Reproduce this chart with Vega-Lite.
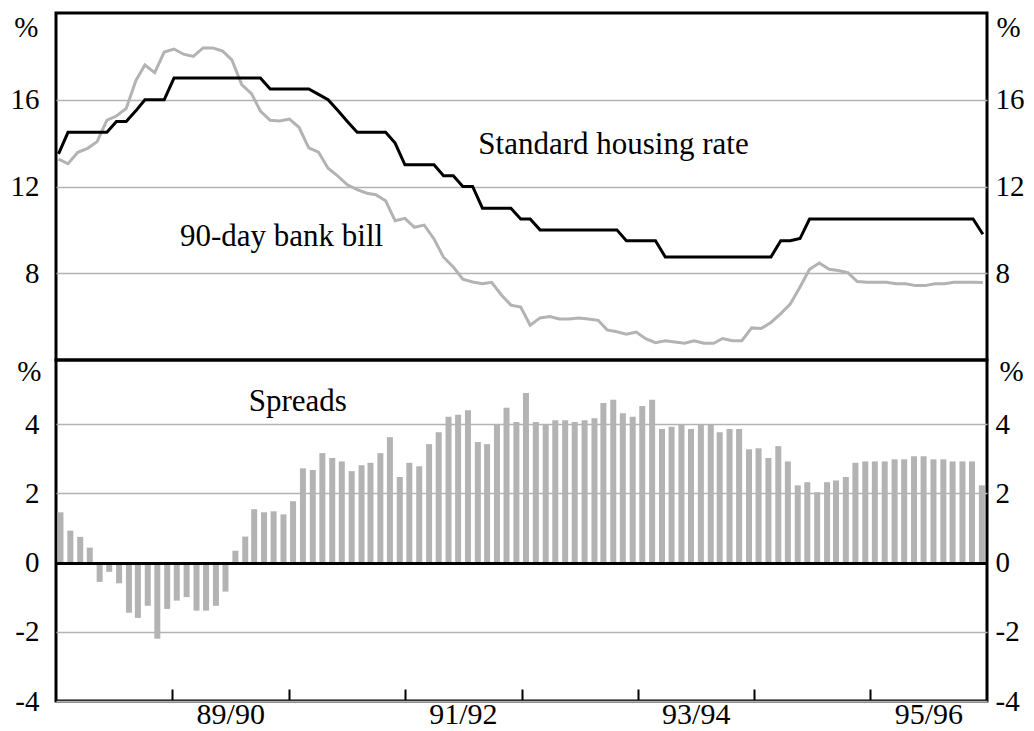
{
  "$schema": "https://vega.github.io/schema/vega-lite/v6.json",
  "padding": {"left": 0, "top": 11, "right": 5, "bottom": 2},
  "background": "white",
  "spacing": 0,
  "bounds": "flush",
  "config": {
    "font": "Liberation Serif",
    "view": {"stroke": "black", "strokeWidth": 3},
    "axis": {
      "domain": false, "ticks": false, "grid": false,
      "labelColor": "black", "titleColor": "black",
      "labelFont": "Liberation Serif", "titleFont": "Liberation Serif",
      "titleFontWeight": "normal", "labelFlush": false, "labelOverlap": false, "labelBound": false
    }
  },
  "datasets": {
    "rates": [
      {"date": "1988-06-15", "housing": 13.5, "bill": 13.26},
      {"date": "1988-07-15", "housing": 14.5, "bill": 13.05, "spread": 1.45},
      {"date": "1988-08-15", "housing": 14.5, "bill": 13.58, "spread": 0.92},
      {"date": "1988-09-15", "housing": 14.5, "bill": 13.76, "spread": 0.74},
      {"date": "1988-10-15", "housing": 14.5, "bill": 14.07, "spread": 0.43},
      {"date": "1988-11-15", "housing": 14.5, "bill": 15.06, "spread": -0.56},
      {"date": "1988-12-15", "housing": 15.0, "bill": 15.25, "spread": -0.27},
      {"date": "1989-01-15", "housing": 15.0, "bill": 15.6, "spread": -0.6},
      {"date": "1989-02-15", "housing": 15.5, "bill": 16.9, "spread": -1.45},
      {"date": "1989-03-15", "housing": 16.0, "bill": 17.6, "spread": -1.6},
      {"date": "1989-04-15", "housing": 16.0, "bill": 17.25, "spread": -1.25},
      {"date": "1989-05-15", "housing": 16.0, "bill": 18.2, "spread": -2.2},
      {"date": "1989-06-15", "housing": 17.0, "bill": 18.34, "spread": -1.34},
      {"date": "1989-07-15", "housing": 17.0, "bill": 18.1, "spread": -1.1},
      {"date": "1989-08-15", "housing": 17.0, "bill": 18.0, "spread": -1.0},
      {"date": "1989-09-15", "housing": 17.0, "bill": 18.39, "spread": -1.39},
      {"date": "1989-10-15", "housing": 17.0, "bill": 18.39, "spread": -1.39},
      {"date": "1989-11-15", "housing": 17.0, "bill": 18.25, "spread": -1.25},
      {"date": "1989-12-15", "housing": 17.0, "bill": 17.84, "spread": -0.84},
      {"date": "1990-01-15", "housing": 17.0, "bill": 16.7, "spread": 0.34},
      {"date": "1990-02-15", "housing": 17.0, "bill": 16.28, "spread": 0.75},
      {"date": "1990-03-15", "housing": 17.0, "bill": 15.48, "spread": 1.54},
      {"date": "1990-04-15", "housing": 16.5, "bill": 15.05, "spread": 1.45},
      {"date": "1990-05-15", "housing": 16.5, "bill": 15.02, "spread": 1.48},
      {"date": "1990-06-15", "housing": 16.5, "bill": 15.11, "spread": 1.39},
      {"date": "1990-07-15", "housing": 16.5, "bill": 14.73, "spread": 1.77},
      {"date": "1990-08-15", "housing": 16.5, "bill": 13.78, "spread": 2.72},
      {"date": "1990-09-15", "housing": 16.25, "bill": 13.58, "spread": 2.67},
      {"date": "1990-10-15", "housing": 16.0, "bill": 12.84, "spread": 3.16},
      {"date": "1990-11-15", "housing": 15.5, "bill": 12.48, "spread": 3.02},
      {"date": "1990-12-15", "housing": 15.0, "bill": 12.08, "spread": 2.92},
      {"date": "1991-01-15", "housing": 14.5, "bill": 11.86, "spread": 2.64},
      {"date": "1991-02-15", "housing": 14.5, "bill": 11.69, "spread": 2.81},
      {"date": "1991-03-15", "housing": 14.5, "bill": 11.62, "spread": 2.88},
      {"date": "1991-04-15", "housing": 14.5, "bill": 11.34, "spread": 3.16},
      {"date": "1991-05-15", "housing": 14.0, "bill": 10.42, "spread": 3.62},
      {"date": "1991-06-15", "housing": 13.0, "bill": 10.53, "spread": 2.47},
      {"date": "1991-07-15", "housing": 13.0, "bill": 10.12, "spread": 2.88},
      {"date": "1991-08-15", "housing": 13.0, "bill": 10.22, "spread": 2.78},
      {"date": "1991-09-15", "housing": 13.0, "bill": 9.58, "spread": 3.42},
      {"date": "1991-10-15", "housing": 12.5, "bill": 8.74, "spread": 3.76},
      {"date": "1991-11-15", "housing": 12.5, "bill": 8.29, "spread": 4.21},
      {"date": "1991-12-15", "housing": 12.0, "bill": 7.73, "spread": 4.27},
      {"date": "1992-01-15", "housing": 12.0, "bill": 7.6, "spread": 4.4},
      {"date": "1992-02-15", "housing": 11.0, "bill": 7.52, "spread": 3.48},
      {"date": "1992-03-15", "housing": 11.0, "bill": 7.58, "spread": 3.42},
      {"date": "1992-04-15", "housing": 11.0, "bill": 7.0, "spread": 4.0},
      {"date": "1992-05-15", "housing": 11.0, "bill": 6.53, "spread": 4.47},
      {"date": "1992-06-15", "housing": 10.5, "bill": 6.44, "spread": 4.06},
      {"date": "1992-07-15", "housing": 10.5, "bill": 5.6, "spread": 4.9},
      {"date": "1992-08-15", "housing": 10.0, "bill": 5.94, "spread": 4.06},
      {"date": "1992-09-15", "housing": 10.0, "bill": 6.0, "spread": 4.0},
      {"date": "1992-10-15", "housing": 10.0, "bill": 5.89, "spread": 4.11},
      {"date": "1992-11-15", "housing": 10.0, "bill": 5.89, "spread": 4.11},
      {"date": "1992-12-15", "housing": 10.0, "bill": 5.94, "spread": 4.06},
      {"date": "1993-01-15", "housing": 10.0, "bill": 5.89, "spread": 4.11},
      {"date": "1993-02-15", "housing": 10.0, "bill": 5.83, "spread": 4.17},
      {"date": "1993-03-15", "housing": 10.0, "bill": 5.39, "spread": 4.61},
      {"date": "1993-04-15", "housing": 10.0, "bill": 5.3, "spread": 4.7},
      {"date": "1993-05-15", "housing": 9.5, "bill": 5.19, "spread": 4.31},
      {"date": "1993-06-15", "housing": 9.5, "bill": 5.29, "spread": 4.21},
      {"date": "1993-07-15", "housing": 9.5, "bill": 4.98, "spread": 4.52},
      {"date": "1993-08-15", "housing": 9.5, "bill": 4.8, "spread": 4.7},
      {"date": "1993-09-15", "housing": 8.75, "bill": 4.89, "spread": 3.86},
      {"date": "1993-10-15", "housing": 8.75, "bill": 4.83, "spread": 3.92},
      {"date": "1993-11-15", "housing": 8.75, "bill": 4.77, "spread": 3.98},
      {"date": "1993-12-15", "housing": 8.75, "bill": 4.89, "spread": 3.86},
      {"date": "1994-01-15", "housing": 8.75, "bill": 4.77, "spread": 3.98},
      {"date": "1994-02-15", "housing": 8.75, "bill": 4.77, "spread": 3.98},
      {"date": "1994-03-15", "housing": 8.75, "bill": 4.99, "spread": 3.76},
      {"date": "1994-04-15", "housing": 8.75, "bill": 4.89, "spread": 3.86},
      {"date": "1994-05-15", "housing": 8.75, "bill": 4.89, "spread": 3.86},
      {"date": "1994-06-15", "housing": 8.75, "bill": 5.48, "spread": 3.27},
      {"date": "1994-07-15", "housing": 8.75, "bill": 5.45, "spread": 3.3},
      {"date": "1994-08-15", "housing": 8.75, "bill": 5.73, "spread": 3.02},
      {"date": "1994-09-15", "housing": 9.5, "bill": 6.14, "spread": 3.36},
      {"date": "1994-10-15", "housing": 9.5, "bill": 6.58, "spread": 2.92},
      {"date": "1994-11-15", "housing": 9.6, "bill": 7.37, "spread": 2.23},
      {"date": "1994-12-15", "housing": 10.5, "bill": 8.18, "spread": 2.32},
      {"date": "1995-01-15", "housing": 10.5, "bill": 8.47, "spread": 2.03},
      {"date": "1995-02-15", "housing": 10.5, "bill": 8.18, "spread": 2.32},
      {"date": "1995-03-15", "housing": 10.5, "bill": 8.13, "spread": 2.37},
      {"date": "1995-04-15", "housing": 10.5, "bill": 8.03, "spread": 2.47},
      {"date": "1995-05-15", "housing": 10.5, "bill": 7.62, "spread": 2.88},
      {"date": "1995-06-15", "housing": 10.5, "bill": 7.58, "spread": 2.92},
      {"date": "1995-07-15", "housing": 10.5, "bill": 7.58, "spread": 2.92},
      {"date": "1995-08-15", "housing": 10.5, "bill": 7.58, "spread": 2.92},
      {"date": "1995-09-15", "housing": 10.5, "bill": 7.52, "spread": 2.98},
      {"date": "1995-10-15", "housing": 10.5, "bill": 7.52, "spread": 2.98},
      {"date": "1995-11-15", "housing": 10.5, "bill": 7.43, "spread": 3.07},
      {"date": "1995-12-15", "housing": 10.5, "bill": 7.43, "spread": 3.07},
      {"date": "1996-01-15", "housing": 10.5, "bill": 7.52, "spread": 2.98},
      {"date": "1996-02-15", "housing": 10.5, "bill": 7.52, "spread": 2.98},
      {"date": "1996-03-15", "housing": 10.5, "bill": 7.58, "spread": 2.92},
      {"date": "1996-04-15", "housing": 10.5, "bill": 7.58, "spread": 2.92},
      {"date": "1996-05-15", "housing": 10.5, "bill": 7.58, "spread": 2.92},
      {"date": "1996-06-15", "housing": 9.8, "bill": 7.57, "spread": 2.23}
    ]
  },
  "vconcat": [
    {
      "width": 931,
      "height": 347,
      "data": {"name": "rates"},
      "encoding": {
        "x": {
          "field": "date", "type": "temporal",
          "scale": {"domain": [{"year": 1988, "month": 6, "date": 7}, {"year": 1996, "month": 6, "date": 28}], "padding": 0},
          "axis": null
        }
      },
      "layer": [
        {
          "mark": {"type": "line", "color": "#b3b3b3", "strokeWidth": 3},
          "encoding": {
            "y": {
              "field": "bill", "type": "quantitative",
              "scale": {"domain": [4, 20], "nice": false, "zero": false},
              "axis": {
                "orient": "left", "values": [8, 12, 16], "grid": true, "gridColor": "#b3b3b3", "gridWidth": 1.5,
                "labelFont": "Liberation Serif", "labelFontSize": 29, "labelPadding": 17, "minExtent": 54,
                "labelExpr": "datum.value + ''",
                "title": "%", "titleFont": "Liberation Serif", "titleAngle": 0, "titleAlign": "right", "titleBaseline": "middle",
                "titleX": -18, "titleY": 14, "titleFontSize": 29
              }
            }
          }
        },
        {
          "mark": {"type": "line", "color": "black", "strokeWidth": 3},
          "encoding": {
            "y": {
              "field": "housing", "type": "quantitative",
              "axis": {
                "orient": "right", "values": [8, 12, 16],
                "labelFont": "Liberation Serif", "labelFontSize": 29, "labelPadding": 8,
                "labelExpr": "datum.value + ''",
                "title": "%", "titleFont": "Liberation Serif", "titleAngle": 0, "titleAlign": "left", "titleBaseline": "middle",
                "titleX": 9, "titleY": 14, "titleFontSize": 29
              }
            }
          }
        },
        {
          "data": {"values": [
            {"date": "1992-02-02", "value": 13.52, "note": "Standard housing rate"},
            {"date": "1989-07-04", "value": 9.26, "note": "90-day bank bill"}
          ]},
          "mark": {"type": "text", "align": "left", "baseline": "alphabetic", "fontSize": 31, "color": "black", "font": "Liberation Serif"},
          "encoding": {
            "y": {"field": "value", "type": "quantitative", "axis": null},
            "text": {"field": "note"}
          }
        }
      ],
      "resolve": {"axis": {"y": "independent"}}
    },
    {
      "width": 931,
      "height": 341,
      "encoding": {
        "x": {
          "field": "date", "type": "temporal",
          "scale": {"domain": [{"year": 1988, "month": 7, "date": 1}, {"year": 1996, "month": 7, "date": 1}], "padding": 0},
          "axis": {
            "orient": "bottom",
            "values": [
              {"year": 1989, "month": 7, "date": 1}, {"year": 1990, "month": 7, "date": 1},
              {"year": 1991, "month": 7, "date": 1}, {"year": 1992, "month": 7, "date": 1},
              {"year": 1993, "month": 7, "date": 1}, {"year": 1994, "month": 7, "date": 1},
              {"year": 1995, "month": 7, "date": 1}
            ],
            "ticks": true, "tickSize": -12, "tickWidth": 2, "tickColor": "black",
            "labelExpr": "year(datum.value) % 2 == 1 ? (year(datum.value) % 100) + '/' + ((year(datum.value) + 1) % 100) : ''",
            "labelOffset": 58, "labelFont": "Liberation Serif", "labelFontSize": 30, "labelPadding": 34,
            "labelBaseline": "alphabetic", "labelAlign": "center",
            "title": null
          }
        }
      },
      "layer": [
        {
          "data": {"name": "rates"},
          "transform": [{"filter": "datum.spread != null"}],
          "mark": {"type": "bar", "color": "#b3b3b3", "size": 6},
          "encoding": {
            "y": {
              "field": "spread", "type": "quantitative",
              "scale": {"domain": [-4, 5.85], "nice": false, "zero": false},
              "axis": {
                "orient": "left", "values": [-4, -2, 0, 2, 4], "grid": true, "zindex": 1,
                "gridColor": {"condition": {"test": "datum.value == 0", "value": "black"}, "value": "#b3b3b3"},
                "gridWidth": {"condition": {"test": "datum.value == 0", "value": 3}, "value": 1.5},
                "labelFont": "Liberation Serif", "labelFontSize": 29, "labelPadding": 17, "minExtent": 54,
                "labelExpr": "datum.value + ''",
                "title": "%", "titleFont": "Liberation Serif", "titleAngle": 0, "titleAlign": "right", "titleBaseline": "middle",
                "titleX": -15, "titleY": 11, "titleFontSize": 29
              }
            }
          }
        },
        {
          "data": {"values": [{"date": "1990-02-26", "value": 4.39, "note": "Spreads"}]},
          "mark": {"type": "text", "align": "left", "baseline": "alphabetic", "fontSize": 31, "color": "black", "font": "Liberation Serif"},
          "encoding": {
            "y": {
              "field": "value", "type": "quantitative",
              "axis": {
                "orient": "right", "values": [-4, -2, 0, 2, 4],
                "labelFont": "Liberation Serif", "labelFontSize": 29, "labelPadding": 8,
                "labelExpr": "datum.value + ''",
                "title": "%", "titleFont": "Liberation Serif", "titleAngle": 0, "titleAlign": "left", "titleBaseline": "middle",
                "titleX": 12, "titleY": 11, "titleFontSize": 29
              }
            },
            "text": {"field": "note"}
          }
        }
      ],
      "resolve": {"axis": {"y": "independent"}}
    }
  ]
}
